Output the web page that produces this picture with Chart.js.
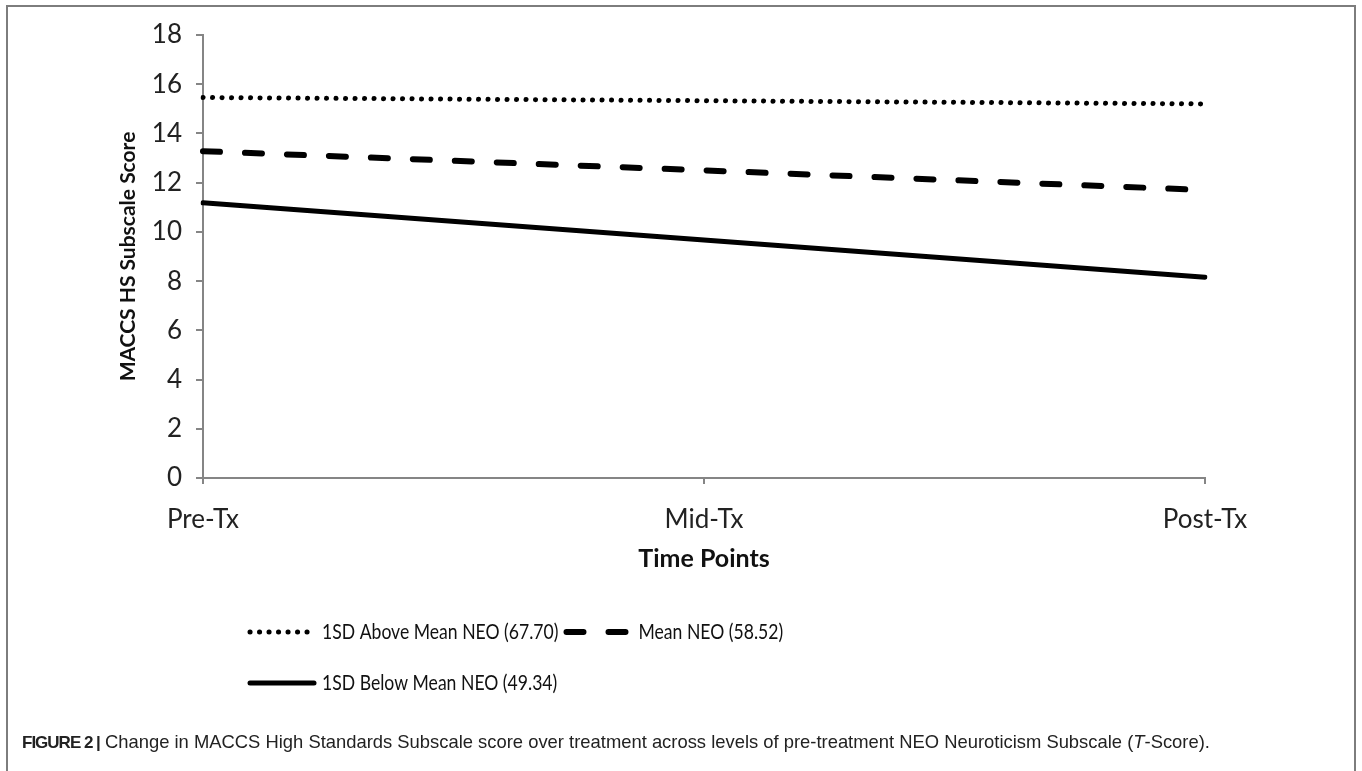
<!DOCTYPE html>
<html lang="en">
<head>
    <meta charset="UTF-8">
    <title>Figure 2: MACCS HS Subscale Score</title>
    <script src="https://cdn.jsdelivr.net/npm/chart.js"></script>
    <style>
        body { margin: 0; background: #fff; width: 1362px; height: 771px; overflow: hidden; position: relative; }
        #frame { position: absolute; left: 6px; top: 5px; width: 1346px; height: 800px;
                 border: 2px solid #7d7d7d; border-bottom: none; }
        #chart { position: absolute; left: 0; top: 0; }
        #caption { position: absolute; left: 22px; top: 731px; font-family: "Liberation Sans", Arial, sans-serif;
                   font-size: 18.4px; color: #222; white-space: nowrap; }
        #caption b { font-size: 17px; letter-spacing: -1px; }
    </style>
</head>
<body>
    <div id="frame"></div>
    <canvas id="chart" width="1362" height="771"></canvas>
    <div id="caption"><b>FIGURE 2 |</b> Change in MACCS High Standards Subscale score over treatment across levels of pre-treatment NEO Neuroticism Subscale (<i>T</i>-Score).</div>

    <script>
        // values
        const timePoints = ['Pre-Tx', 'Mid-Tx', 'Post-Tx'];
        const aboveMean = [15.46, 15.33, 15.2];
        const meanNeo = [13.28, 12.5, 11.7];
        const belowMean = [11.18, 9.67, 8.16];
        const seriesNames = ['1SD Above Mean NEO (67.70)', 'Mean NEO (58.52)', '1SD Below Mean NEO (49.34)'];
        const legendRows = [[0, 1], [2]];

        const fontFamily = 'Lato, "DejaVu Sans", sans-serif';
        const tickFont = { family: fontFamily, size: 26 };
        const titleFont = { family: fontFamily, size: 25, weight: 'bold' };

        // excel style legend, two rows under the x axis title
        const legendPlugin = {
            id: 'rowLegend',
            afterDraw(chart) {
                const ctx = chart.ctx;
                const area = chart.chartArea;
                const rowY = [area.bottom + 154, area.bottom + 205];
                const squeeze = 0.8;
                ctx.save();
                ctx.font = '22px ' + fontFamily;
                ctx.fillStyle = '#111';
                ctx.textBaseline = 'middle';
                legendRows.forEach((row, r) => {
                    let x = 250;
                    row.forEach(i => {
                        const ds = chart.data.datasets[i];
                        ctx.beginPath();
                        ctx.strokeStyle = ds.borderColor;
                        ctx.lineWidth = ds.borderWidth;
                        ctx.lineCap = ds.borderCapStyle || 'butt';
                        ctx.setLineDash(ds.borderDash || []);
                        ctx.moveTo(x, rowY[r]);
                        ctx.lineTo(x + 64, rowY[r]);
                        ctx.stroke();
                        ctx.setLineDash([]);
                        x += 72;
                        ctx.save();
                        ctx.translate(x, rowY[r]);
                        ctx.scale(squeeze, 1);
                        ctx.fillText(ds.label, 0, 0);
                        ctx.restore();
                        x += ctx.measureText(ds.label).width * squeeze + 8;
                    });
                });
                ctx.restore();
            }
        };

        new Chart(document.getElementById('chart'), {
            type: 'line',
            data: {
                labels: timePoints,
                datasets: [
                    { label: seriesNames[0], data: aboveMean, borderColor: '#000', borderWidth: 5,
                      borderDash: [0.1, 9.4], borderCapStyle: 'round' },
                    { label: seriesNames[1], data: meanNeo, borderColor: '#000', borderWidth: 6,
                      borderDash: [17, 25], borderCapStyle: 'round' },
                    { label: seriesNames[2], data: belowMean, borderColor: '#000', borderWidth: 5,
                      borderCapStyle: 'round' }
                ]
            },
            options: {
                responsive: false,
                animation: false,
                devicePixelRatio: 1,
                layout: { padding: { left: 116, top: 35, right: 157, bottom: 197 } },
                elements: { point: { radius: 0 }, line: { tension: 0 } },
                plugins: { legend: { display: false }, tooltip: { enabled: false } },
                scales: {
                    x: {
                        offset: false,
                        border: { color: '#858585', width: 2 },
                        grid: { drawOnChartArea: false, tickLength: 6, color: '#858585', lineWidth: 2 },
                        ticks: { color: '#222', font: tickFont, padding: 20, maxRotation: 0 },
                        title: { display: true, text: 'Time Points', color: '#111', font: titleFont, padding: 0 },
                        afterFit(scale) { scale.height = 96; }
                    },
                    y: {
                        min: 0,
                        max: 18,
                        border: { color: '#858585', width: 2 },
                        grid: { drawOnChartArea: false, tickLength: 7, color: '#858585', lineWidth: 2 },
                        ticks: { stepSize: 2, color: '#222', font: tickFont, padding: 14 },
                        title: { display: true, text: 'MACCS HS Subscale Score', color: '#111',
                                 font: { family: fontFamily, size: 21, weight: 'bold' }, padding: 0 },
                        afterFit(scale) { scale.width = 87; }
                    }
                }
            },
            plugins: [legendPlugin]
        });
    </script>
</body>
</html>
